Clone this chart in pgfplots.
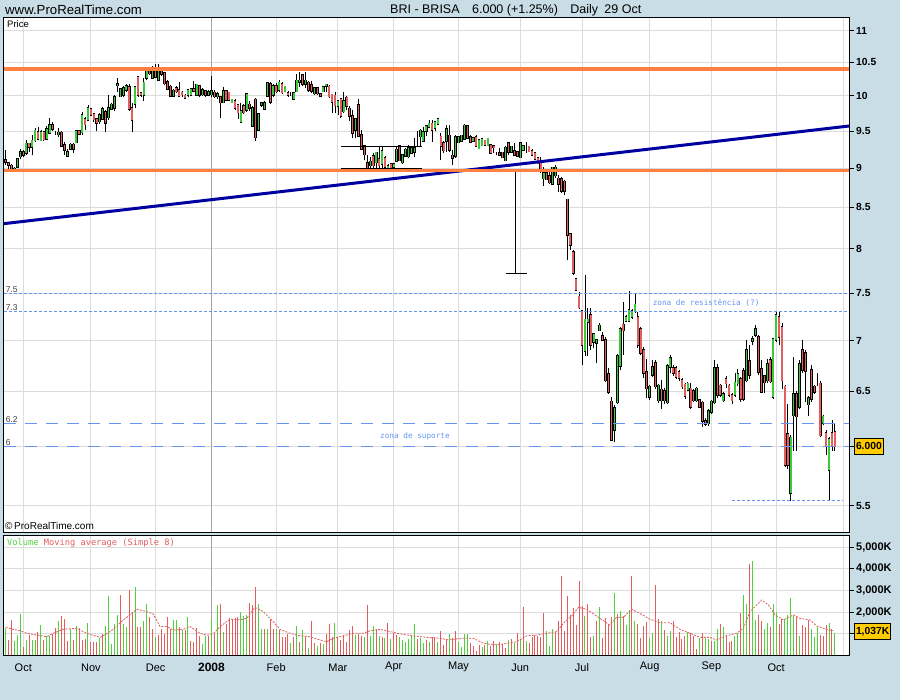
\documentclass[border=0pt]{standalone}
\usepackage{fontspec}
\setmainfont{Liberation Sans}
\newfontfamily\monofont{DejaVu Sans Mono}
\usepackage{pgfplots}
\usepackage{pgfplotstable}
\pgfplotsset{compat=1.18}
\definecolor{bg}{RGB}{201,221,230}
\definecolor{cgreen}{RGB}{60,200,60}
\definecolor{cred}{RGB}{225,95,95}
\definecolor{vgreen}{RGB}{80,210,60}
\definecolor{vred}{RGB}{228,92,92}
\definecolor{ornge}{RGB}{255,128,64}
\definecolor{navy}{RGB}{0,0,160}
\definecolor{lblue}{RGB}{100,150,240}
\definecolor{gridc}{RGB}{220,220,220}
\definecolor{gridd}{RGB}{165,165,165}
\definecolor{boxy}{RGB}{255,204,0}

\pgfplotstableread{
i O H L C
-6 9.10 9.24 9.04 9.09
-5 9.06 9.08 8.99 9.05
-4 9.03 9.05 8.97 8.98
-3 8.98 9.02 8.96 8.99
-2 9.02 9.12 9.01 9.11
-1 9.16 9.25 9.12 9.21
0 9.21 9.24 9.15 9.18
1 9.21 9.38 9.17 9.32
2 9.32 9.34 9.22 9.29
3 9.29 9.44 9.17 9.36
4 9.38 9.54 9.35 9.50
5 9.48 9.56 9.38 9.40
6 9.38 9.52 9.36 9.48
7 9.48 9.50 9.37 9.39
8 9.40 9.57 9.38 9.52
9 9.48 9.68 9.46 9.58
10 9.58 9.62 9.50 9.54
11 9.46 9.50 9.44 9.46
12 9.46 9.54 9.42 9.47
13 9.47 9.50 9.28 9.30
14 9.30 9.35 9.17 9.25
15 9.17 9.26 9.16 9.21
16 9.26 9.33 9.24 9.31
17 9.31 9.33 9.20 9.26
18 9.35 9.52 9.33 9.49
19 9.49 9.52 9.44 9.47
20 9.49 9.77 9.45 9.72
21 9.66 9.70 9.52 9.60
22 9.66 9.87 9.64 9.82
23 9.80 9.83 9.71 9.73
24 9.73 9.76 9.62 9.67
25 9.66 9.68 9.50 9.62
26 9.64 9.75 9.60 9.72
27 9.68 9.84 9.65 9.80
28 9.76 9.80 9.49 9.62
29 9.70 10.01 9.66 9.82
30 9.82 9.90 9.79 9.87
31 9.83 10.02 9.78 9.98
32 10.16 10.27 10.05 10.17
33 10.00 10.12 9.98 10.09
34 10.02 10.14 9.99 10.11
35 10.09 10.18 10.06 10.14
36 10.12 10.17 9.78 9.82
37 9.82 9.89 9.49 9.66
38 9.89 10.15 9.82 10.12
39 10.27 10.30 9.98 10.02
40 10.03 10.06 9.99 10.02
41 10.02 10.27 9.92 10.19
42 10.27 10.40 10.24 10.37
43 10.39 10.42 10.31 10.34
44 10.27 10.44 10.25 10.41
45 10.36 10.47 10.27 10.29
46 10.24 10.47 10.22 10.41
47 10.39 10.42 10.30 10.33
48 10.33 10.36 10.16 10.19
49 10.20 10.23 10.08 10.11
50 10.13 10.16 9.98 10.01
51 10.01 10.10 9.98 10.07
52 10.11 10.14 10.04 10.07
53 10.08 10.20 9.99 10.01
54 10.04 10.07 9.99 10.03
55 10.00 10.03 9.95 9.98
56 10.02 10.10 9.99 10.08
57 10.02 10.12 10.00 10.09
58 10.09 10.22 10.05 10.08
59 10.02 10.18 10.00 10.16
60 10.14 10.16 9.99 10.02
61 10.03 10.11 10.00 10.08
62 10.06 10.09 9.99 10.02
63 10.02 10.08 10.00 10.05
64 10.03 10.30 9.98 10.06
65 10.04 10.08 9.97 10.00
66 10.00 10.05 9.96 10.02
67 9.98 10.00 9.68 9.91
68 9.91 10.13 9.89 10.06
69 10.06 10.08 9.92 9.95
70 10.04 10.06 9.93 9.95
71 9.91 9.96 9.89 9.94
72 9.92 9.95 9.80 9.83
73 9.86 9.88 9.67 9.77
74 9.63 9.90 9.61 9.77
75 9.85 9.88 9.74 9.77
76 9.80 10.04 9.77 10.02
77 9.87 9.92 9.78 9.83
78 9.58 9.86 9.55 9.82
79 9.94 9.97 9.37 9.42
80 9.52 9.76 9.50 9.73
81 9.88 9.91 9.84 9.89
82 9.82 9.92 9.79 9.89
83 10.01 10.21 9.99 10.18
84 10.17 10.20 9.88 9.92
85 10.02 10.17 9.99 10.14
86 10.14 10.19 10.04 10.07
87 10.09 10.23 10.06 10.19
88 10.17 10.20 10.03 10.06
89 10.07 10.15 10.05 10.13
90 10.03 10.07 9.99 10.02
91 10.02 10.05 10.00 10.02
92 9.96 10.05 9.94 10.03
93 10.07 10.33 10.06 10.22
94 10.21 10.35 10.13 10.22
95 10.30 10.32 10.14 10.18
96 10.18 10.36 10.12 10.22
97 10.19 10.22 10.06 10.09
98 10.15 10.22 10.04 10.08
99 10.04 10.13 10.02 10.11
100 10.11 10.13 10.01 10.04
101 10.02 10.04 9.99 10.01
102 10.07 10.14 10.05 10.12
103 10.15 10.18 10.05 10.16
104 10.13 10.16 9.97 10.00
105 10.01 10.02 9.75 9.92
106 10.00 10.05 9.75 9.87
107 9.86 9.94 9.72 9.92
108 9.95 9.97 9.68 9.72
109 9.78 10.05 9.75 9.92
110 9.97 10.00 9.80 9.86
111 9.81 9.85 9.64 9.72
112 9.70 9.80 9.40 9.48
113 9.52 9.68 9.40 9.66
114 9.86 9.95 9.42 9.44
115 9.44 9.52 9.24 9.26
116 9.29 9.31 9.11 9.19
117 9.06 9.17 8.99 9.00
118 9.04 9.15 8.98 9.08
119 9.15 9.20 8.98 9.04
120 9.08 9.22 8.98 9.20
121 9.11 9.29 8.98 9.04
122 9.06 9.29 8.98 9.22
123 9.13 9.16 9.00 9.02
124 9.00 9.05 8.97 9.02
125 9.05 9.07 8.98 9.01
126 9.02 9.07 9.00 9.05
127 9.10 9.29 9.08 9.24
128 9.29 9.31 9.09 9.11
129 9.08 9.19 9.06 9.17
130 9.17 9.27 9.15 9.24
131 9.16 9.31 9.13 9.26
132 9.21 9.28 9.19 9.26
133 9.22 9.41 9.15 9.26
134 9.30 9.50 9.29 9.30
135 9.43 9.53 9.28 9.50
136 9.37 9.55 9.36 9.48
137 9.51 9.59 9.43 9.56
138 9.56 9.66 9.55 9.60
139 9.60 9.66 9.35 9.52
140 9.55 9.64 9.50 9.62
141 9.61 9.68 9.59 9.66
142 9.42 9.47 9.11 9.30
143 9.33 9.36 9.20 9.24
144 9.37 9.58 9.22 9.52
145 9.43 9.58 9.21 9.25
146 9.16 9.24 9.04 9.14
147 9.17 9.45 9.14 9.41
148 9.35 9.43 9.33 9.41
149 9.37 9.45 9.35 9.43
150 9.40 9.60 9.38 9.57
151 9.56 9.59 9.39 9.41
152 9.41 9.44 9.33 9.36
153 9.37 9.42 9.35 9.40
154 9.41 9.44 9.28 9.30
155 9.27 9.39 9.25 9.37
156 9.31 9.40 9.29 9.38
157 9.36 9.38 9.30 9.32
158 9.31 9.41 9.29 9.39
159 9.30 9.31 9.20 9.21
160 9.29 9.31 9.20 9.28
161 9.19 9.21 9.17 9.19
162 9.19 9.27 9.17 9.18
163 9.20 9.22 9.13 9.15
164 9.11 9.29 9.09 9.27
165 9.33 9.35 9.18 9.22
166 9.22 9.30 9.20 9.28
167 9.22 9.33 9.16 9.18
168 9.21 9.23 9.15 9.17
169 9.15 9.35 9.13 9.33
170 9.25 9.31 9.23 9.29
171 9.29 9.35 9.20 9.29
172 9.28 9.30 9.21 9.23
173 9.22 9.26 9.16 9.18
174 9.19 9.21 9.11 9.13
175 9.13 9.15 9.05 9.07
176 9.07 9.15 8.94 9.00
177 8.87 9.02 8.77 8.93
178 8.93 8.95 8.84 8.86
179 8.89 8.98 8.79 8.82
180 8.80 9.02 8.79 9.00
181 8.91 9.04 8.87 9.00
182 8.86 8.91 8.69 8.80
183 8.85 8.88 8.68 8.71
184 8.82 8.84 8.66 8.71
185 8.59 8.60 7.87 8.17
186 8.17 8.19 7.99 8.05
187 7.96 7.99 7.70 7.73
188 7.65 7.67 7.52 7.54
189 7.46 7.51 7.33 7.35
190 7.30 7.32 6.75 6.96
191 6.90 7.70 6.84 7.21
192 7.20 7.34 6.84 7.21
193 7.26 7.34 6.90 6.96
194 6.99 7.08 6.92 7.06
195 6.98 7.02 6.77 7.00
196 7.11 7.18 7.10 7.15
197 7.04 7.09 6.99 7.01
198 7.00 7.04 6.59 6.61
199 6.66 6.72 6.47 6.50
200 6.40 6.45 6.05 6.06
201 6.15 6.37 6.04 6.34
202 6.40 6.86 6.38 6.84
203 6.75 7.14 6.70 7.11
204 7.16 7.40 6.85 7.11
205 7.21 7.26 7.19 7.24
206 7.21 7.52 7.19 7.31
207 7.25 7.33 7.22 7.30
208 7.31 7.50 7.29 7.37
209 7.24 7.30 6.92 6.96
210 7.11 7.14 6.85 6.88
211 6.90 6.93 6.63 6.68
212 6.68 6.81 6.44 6.53
213 6.45 6.56 6.42 6.54
214 6.66 6.80 6.64 6.73
215 6.77 6.80 6.52 6.55
216 6.42 6.57 6.39 6.55
217 6.51 6.61 6.33 6.42
218 6.50 6.53 6.38 6.42
219 6.40 6.76 6.38 6.74
220 6.74 6.85 6.68 6.82
221 6.72 6.75 6.65 6.68
222 6.72 6.74 6.62 6.64
223 6.68 6.70 6.60 6.63
224 6.60 6.63 6.52 6.55
225 6.56 6.58 6.43 6.46
226 6.52 6.59 6.50 6.57
227 6.52 6.58 6.33 6.36
228 6.50 6.52 6.40 6.42
229 6.42 6.54 6.40 6.52
230 6.41 6.43 6.34 6.36
231 6.39 6.41 6.17 6.23
232 6.22 6.25 6.18 6.20
233 6.21 6.33 6.18 6.31
234 6.31 6.42 6.29 6.40
235 6.40 6.80 6.38 6.72
236 6.72 6.76 6.44 6.47
237 6.55 6.57 6.45 6.47
238 6.42 6.49 6.40 6.47
239 6.61 6.65 6.53 6.58
240 6.55 6.57 6.45 6.47
241 6.46 6.48 6.38 6.42
242 6.47 6.68 6.45 6.58
243 6.58 6.71 6.55 6.66
244 6.61 6.64 6.40 6.43
245 6.69 6.72 6.41 6.43
246 6.61 7.01 6.59 6.90
247 6.79 6.95 6.62 6.66
248 7.00 7.05 6.95 7.01
249 7.06 7.16 7.04 7.11
250 7.03 7.06 6.66 6.69
251 6.71 6.80 6.48 6.50
252 6.64 6.66 6.48 6.59
253 6.61 6.81 6.58 6.76
254 6.80 6.83 6.58 6.60
255 6.45 7.03 6.43 7.01
256 7.01 7.31 6.98 7.26
257 7.24 7.31 6.95 7.04
258 7.13 7.18 6.52 6.61
259 6.54 6.56 5.82 5.84
260 6.10 6.38 5.80 5.84
261 5.61 6.10 5.54 6.07
262 6.28 6.83 5.96 6.47
263 6.47 6.50 5.96 6.27
264 6.36 6.80 6.33 6.76
265 6.90 7.01 6.68 6.71
266 6.87 6.90 6.40 6.70
267 6.38 6.46 6.27 6.43
268 6.70 6.75 6.40 6.43
269 6.54 6.56 6.47 6.50
270 6.58 6.68 6.55 6.58
271 6.57 6.60 6.08 6.10
272 6.21 6.28 6.19 6.26
273 6.11 6.14 5.92 6.01
274 5.80 6.08 5.54 6.06
275 6.11 6.23 5.96 6.01
276 6.12 6.21 5.96 6.00
}\price

\pgfplotstableread[row sep=\\]{
i V g\\
-6 1250 1\\ -5 710 0\\ -4 1640 0\\ -3 680 1\\ -2 940 1\\ -1 1910 1\\ 0 400 0\\ 1 710 1\\ 2 940 0\\ 3 710 1\\
4 710 1\\ 5 1100 0\\ 6 1400 1\\ 7 710 0\\ 8 900 1\\ 9 900 1\\ 10 1000 0\\ 11 1280 0\\ 12 1600 1\\ 13 1820 0\\
14 1670 0\\ 15 680 0\\ 16 1200 1\\ 17 710 0\\ 18 1360 1\\ 19 1250 0\\ 20 710 0\\ 21 740 0\\ 22 1480 1\\ 23 630 0\\
24 630 0\\ 25 630 0\\ 26 790 1\\ 27 1000 0\\ 28 1360 1\\ 29 2750 1\\ 30 520 1\\ 31 1450 1\\ 32 1870 1\\ 33 2790 0\\
34 1440 1\\ 35 1330 1\\ 36 3020 0\\ 37 1940 0\\ 38 3160 1\\ 39 1330 0\\ 40 1330 0\\ 41 1600 1\\ 42 2380 1\\ 43 1760 0\\
44 1230 0\\ 45 860 1\\ 46 940 0\\ 47 1230 0\\ 48 1000 0\\ 49 1760 0\\ 50 1200 0\\ 51 1640 1\\ 52 1640 1\\ 53 1330 0\\
54 1170 1\\ 55 1170 0\\ 56 1760 1\\ 57 680 0\\ 58 630 0\\ 59 1250 0\\ 60 900 0\\ 61 520 1\\ 62 900 1\\ 63 900 0\\
64 1670 1\\ 65 1000 0\\ 66 2330 1\\ 67 2380 0\\ 68 1100 1\\ 69 1450 0\\ 70 1710 0\\ 71 1640 0\\ 72 1710 0\\ 73 1760 0\\
74 2020 1\\ 75 1820 1\\ 76 1870 1\\ 77 2440 0\\ 78 2330 0\\ 79 3180 0\\ 80 2380 1\\ 81 1200 1\\ 82 1200 0\\ 83 1200 1\\
84 1670 0\\ 85 1200 0\\ 86 1200 1\\ 87 1170 0\\ 88 860 0\\ 89 830 0\\ 90 1000 0\\ 91 590 1\\ 92 830 0\\ 93 1360 1\\
94 630 0\\ 95 1170 1\\ 96 830 0\\ 97 320 1\\ 98 1600 0\\ 99 560 0\\ 100 430 1\\ 101 560 0\\ 102 520 1\\ 103 1000 0\\
104 1450 0\\ 105 830 0\\ 106 1480 1\\ 107 830 0\\ 108 710 0\\ 109 940 0\\ 110 630 0\\ 111 1170 0\\ 112 1360 0\\ 113 940 1\\
114 1000 0\\ 115 900 0\\ 116 830 1\\ 117 2330 0\\ 118 900 1\\ 119 1360 1\\ 120 1200 0\\ 121 900 1\\ 122 830 0\\ 123 790 1\\
124 1480 0\\ 125 740 1\\ 126 1050 0\\ 127 940 0\\ 128 830 1\\ 129 710 1\\ 130 630 1\\ 131 740 1\\ 132 900 1\\ 133 1450 1\\
134 740 0\\ 135 790 1\\ 136 590 1\\ 137 710 0\\ 138 630 1\\ 139 830 0\\ 140 830 0\\ 141 630 1\\ 142 1140 0\\ 143 480 0\\
144 740 0\\ 145 1000 1\\ 146 800 0\\ 147 1140 0\\ 148 630 1\\ 149 370 1\\ 150 1000 1\\ 151 980 1\\ 152 590 0\\ 153 430 0\\
154 220 0\\ 155 480 0\\ 156 400 1\\ 157 480 0\\ 158 680 1\\ 159 430 0\\ 160 680 0\\ 161 520 1\\ 162 620 0\\ 163 520 0\\
164 320 0\\ 165 710 1\\ 166 740 0\\ 167 590 1\\ 168 1050 0\\ 169 710 1\\ 170 2220 0\\ 171 680 1\\ 172 590 0\\ 173 830 0\\
174 940 0\\ 175 900 0\\ 176 830 0\\ 177 1980 0\\ 178 1140 1\\ 179 430 1\\ 180 1200 1\\ 181 1100 0\\ 182 1600 0\\ 183 3670 0\\
184 1140 0\\ 185 2750 0\\ 186 1870 0\\ 187 2180 0\\ 188 1400 0\\ 189 3460 0\\ 190 2280 0\\ 191 1820 1\\ 192 2380 0\\ 193 830 0\\
194 900 1\\ 195 1600 0\\ 196 2250 1\\ 197 790 0\\ 198 1710 0\\ 199 1450 0\\ 200 1760 0\\ 201 2900 1\\ 202 1910 0\\ 203 2070 1\\
204 1820 0\\ 205 1400 1\\ 206 2100 1\\ 207 3670 0\\ 208 1600 1\\ 209 1450 0\\ 210 790 0\\ 211 1360 0\\ 212 1560 0\\ 213 790 1\\
214 1050 1\\ 215 3260 0\\ 216 1670 0\\ 217 1600 1\\ 218 1170 0\\ 219 900 1\\ 220 1140 1\\ 221 1600 0\\ 222 830 0\\ 223 1100 0\\
224 740 0\\ 225 900 0\\ 226 1100 1\\ 227 1050 0\\ 228 900 0\\ 229 280 0\\ 230 790 1\\ 231 1050 0\\ 232 790 1\\ 233 740 1\\
234 680 0\\ 235 680 1\\ 236 1200 1\\ 237 1450 0\\ 238 1330 1\\ 239 940 0\\ 240 630 0\\ 241 680 0\\ 242 900 1\\ 243 1050 1\\
244 1940 0\\ 245 2790 1\\ 246 2380 1\\ 247 4230 0\\ 248 4380 1\\ 249 1640 1\\ 250 1870 0\\ 251 1600 0\\ 252 1200 1\\ 253 1510 1\\
254 1330 0\\ 255 2380 1\\ 256 2020 1\\ 257 1450 0\\ 258 1670 0\\ 259 1670 1\\ 260 1870 1\\ 261 2640 1\\ 262 1820 1\\ 263 1760 0\\
264 900 1\\ 265 1400 0\\ 266 1330 0\\ 267 1640 0\\ 268 1200 1\\ 269 860 1\\ 270 1330 1\\ 271 940 0\\ 272 900 0\\ 273 1400 0\\
274 1510 1\\ 275 1200 0\\ 276 1037 1\\
}\vol

\begin{document}
\begin{tikzpicture}
\fill[bg] (0,0) rectangle (900pt,700pt);

% ---------------- price panel ----------------
\begin{axis}[
  at={(4pt,167.5pt)}, anchor=south west,
  width=845pt, height=514.9pt, scale only axis,
  ymode=log,
  xmin=-6.56, xmax=280.8, ymin=5.29, ymax=11.21,
  axis background/.style={fill=white},
  axis line style={black, line width=1pt},
  xtick={0,23,45,64,86,107,126,148,169,190,213,234,256,279},
  xticklabels={},
  xtick style={draw=none},
  ytick={5.5,6,6.5,7,7.5,8,8.5,9,9.5,10,10.5,11},
  yticklabels={5.5,{},6.5,7,7.5,8,8.5,9,9.5,10,10.5,11},
  minor y tick num=0,
  ytick pos=right, yticklabel pos=right,
  tick align=outside, major tick length=5pt,
  ytick style={black, line width=0.8pt},
  yticklabel style={font=\fontsize{10.3}{12}\selectfont\bfseries, anchor=west, inner sep=0pt, xshift=2pt},
  grid=major,
  major grid style={gridc, line width=0.9pt},
  extra x ticks={64}, extra x tick labels={},
  extra x tick style={grid=major, major grid style={gridd, line width=1pt}, tick style={draw=none}},
]
% wicks
\addplot[draw=none, mark=none, forget plot,
  error bars/.cd, y dir=plus, y explicit, error mark=none,
  error bar style={draw=black, line width=0.8pt}]
  table[x=i, y=L, y error expr=\thisrow{H}-\thisrow{L}] {\price};
% body outlines
\addplot[draw=none, mark=none, forget plot,
  error bars/.cd, y dir=plus, y explicit, error mark=none,
  error bar style={draw=black, line width=2.7pt, line cap=rect}]
  table[x=i, y expr={min(\thisrow{O},\thisrow{C})}, y error expr={abs(\thisrow{C}-\thisrow{O})}] {\price};
% up bodies
\addplot[draw=none, mark=none, forget plot,
  restrict expr to domain={\thisrow{C}-\thisrow{O}}{0:10},
  error bars/.cd, y dir=plus, y explicit, error mark=none,
  error bar style={draw=cgreen, line width=1.5pt, line cap=rect}]
  table[x=i, y=O, y error expr=\thisrow{C}-\thisrow{O}] {\price};
% down bodies
\addplot[draw=none, mark=none, forget plot,
  restrict expr to domain={\thisrow{O}-\thisrow{C}}{0.001:10},
  error bars/.cd, y dir=plus, y explicit, error mark=none,
  error bar style={draw=cred, line width=1.5pt, line cap=rect}]
  table[x=i, y=C, y error expr=\thisrow{O}-\thisrow{C}] {\price};

% reference lines
\addplot[lblue, line width=0.8pt, dash pattern=on 3pt off 2pt] coordinates {(-6.56,7.5) (280.8,7.5)};
\addplot[lblue, line width=0.8pt, dash pattern=on 3pt off 2pt] coordinates {(-6.56,7.3) (280.8,7.3)};
\addplot[lblue, line width=0.9pt, dash pattern=on 12pt off 9pt] coordinates {(-6.56,6.2) (280.8,6.2)};
\addplot[lblue, line width=0.9pt, dash pattern=on 12pt off 9pt] coordinates {(-6.56,6.0) (280.8,6.0)};
\addplot[lblue, line width=0.8pt, dash pattern=on 3pt off 2pt] coordinates {(241,5.54) (278.8,5.54)};
% drawn annotations
\addplot[black, line width=0.9pt] coordinates {(108,9.29) (135.5,9.29)};
\addplot[black, line width=0.9pt] coordinates {(108,9.00) (135.5,9.00)};
\addplot[black, line width=0.9pt] coordinates {(167.5,8.97) (167.5,7.72)};
\addplot[black, line width=0.9pt] coordinates {(164.2,7.72) (171.2,7.72)};
% trend and horizontal levels
\addplot[navy, line width=3pt] coordinates {(-6.56,8.30) (280.8,9.57)};
\addplot[ornge, line width=3.2pt] coordinates {(-6.56,10.40) (280.8,10.40)};
\addplot[ornge, line width=3.2pt] coordinates {(-6.56,8.97) (280.8,8.97)};

\node[anchor=south west, inner sep=0.5pt, text=black!75, font=\fontsize{8.5}{10}\selectfont] at (axis cs:-6.2,7.5) {7.5};
\node[anchor=south west, inner sep=0.5pt, text=black!75, font=\fontsize{8.5}{10}\selectfont] at (axis cs:-6.2,7.3) {7.3};
\node[anchor=south west, inner sep=0.5pt, text=black!75, font=\fontsize{8.5}{10}\selectfont] at (axis cs:-6.2,6.2) {6.2};
\node[anchor=south west, inner sep=0.5pt, text=black!75, font=\fontsize{8.5}{10}\selectfont] at (axis cs:-6.2,6.0) {6};
\node[text=lblue, inner sep=0pt, font=\monofont\fontsize{7.7}{9}\selectfont] at (axis cs:232.2,7.39) {zona de resistência (?)};
\node[text=lblue, inner sep=0pt, font=\monofont\fontsize{7.7}{9}\selectfont] at (axis cs:133.2,6.09) {zona de suporte};
\end{axis}

% ---------------- volume panel ----------------
\begin{axis}[
  at={(4pt,44.7pt)}, anchor=south west,
  width=845pt, height=119.3pt, scale only axis,
  xmin=-6.56, xmax=280.8, ymin=0, ymax=5523,
  axis background/.style={fill=white},
  axis line style={black, line width=1pt},
  xtick={0,23,45,64,86,107,126,148,169,190,213,234,256,279},
  xticklabels={Oct,Nov,Dec,{\fontsize{12}{14}\selectfont\bfseries 2008},Feb,Mar,Apr,May,Jun,Jul,Aug,Sep,Oct,{}},
  xtick style={draw=none},
  xticklabel style={font=\fontsize{11}{13}\selectfont, anchor=center, yshift=-7pt},
  ytick={1000,2000,3000,4000,5000},
  yticklabels={{},{2,000K},{3,000K},{4,000K},{5,000K}},
  scaled y ticks=false,
  ytick pos=right, yticklabel pos=right,
  tick align=outside, major tick length=5pt,
  ytick style={black, line width=0.8pt},
  yticklabel style={font=\fontsize{11}{13}\selectfont\bfseries, anchor=west, inner sep=0pt, xshift=2pt},
  grid=major,
  major grid style={gridc, line width=0.9pt},
  extra x ticks={64}, extra x tick labels={},
  extra x tick style={grid=major, major grid style={gridd, line width=1pt}, tick style={draw=none}},
]
\addplot[ycomb, vgreen, line width=1pt, mark=none, restrict expr to domain={\thisrow{g}}{0.5:1.5}] table[x=i, y=V] {\vol};
\addplot[ycomb, vred, line width=1pt, mark=none, restrict expr to domain={\thisrow{g}}{-0.5:0.5}] table[x=i, y=V] {\vol};
\addplot[vred, line width=0.8pt, dash pattern=on 2pt off 1.3pt] coordinates {
(-6,1300) (-3.4,1200) (-1.1,1140) (1.1,1020) (4.5,940) (7.9,860) (10.2,1020) (13.6,1200) (18.1,1250) (21.5,1020)
(26.1,830) (28.4,1000) (30.6,1200) (34,1640) (36.3,1870) (38.6,2130) (42,2020) (44.2,1910) (46.5,1330) (48.8,1330)
(51,1170) (54.4,1200) (56.7,1330) (60.1,1020) (62.4,930) (64.6,990) (66.9,1330) (70.3,1670) (73.7,1640) (76,1710)
(78.8,2220) (81.6,2020) (85,1560) (87.3,1200) (90.7,1020) (94.1,900) (97.5,860) (100.9,710) (103.2,630) (105.5,790)
(108.8,900) (112.3,1020) (115.7,1020) (118,1140) (121.3,1200) (124.7,1100) (128.1,990) (132.7,900) (137.2,830) (141.7,790)
(144.6,710) (146.2,740) (149.6,790) (153,790) (156.4,560) (159.8,480) (163.2,520) (167.8,630) (171.2,900) (174.6,940)
(178,1020) (181.4,1100) (184.2,1560) (186.5,1820) (188.8,2220) (191.6,2130) (194.4,1870) (197.3,1600) (199.5,1400) (201.8,1760)
(204.1,1760) (206.9,2130) (209.7,1940) (213.1,1670) (216.5,1510) (219.9,1510) (223.3,1200) (226.7,1020) (230.1,830) (233.5,830)
(235.8,710) (239.2,900) (242.6,1020) (244.9,1250) (247.1,2020) (249.4,2330) (251.1,2560) (253.4,2330) (255.6,1870) (258.5,1640)
(261.9,1870) (264.1,1710) (267.5,1640) (269.8,1360) (273.2,1200) (275.5,1140)};
\end{axis}

% ---------------- texts and boxes ----------------
\node[anchor=west, inner sep=0pt, font=\fontsize{13.2}{15}\selectfont] at (5pt,690pt) {www.ProRealTime.com};
\node[anchor=west, inner sep=0pt, font=\fontsize{12.5}{14}\selectfont] at (390pt,690pt) {BRI - BRISA\hspace{1em}6.000 (+1.25\%)\hspace{1em}Daily\hspace{0.5em}29 Oct};
\node[anchor=west, inner sep=0pt, font=\fontsize{9.5}{11}\selectfont] at (7pt,676pt) {Price};
\node[anchor=west, inner sep=0pt, font=\fontsize{10}{12}\selectfont] at (5pt,174pt) {©\,ProRealTime.com};
\node[anchor=west, inner sep=0pt, font=\monofont\fontsize{8.7}{10}\selectfont] at (7pt,156.5pt) {\textcolor{vgreen}{Volume} \textcolor{vred}{Moving average (Simple 8)}};
\node[anchor=west, fill=boxy, draw=black, line width=0.8pt, inner sep=1.6pt, minimum height=16pt, font=\fontsize{10.3}{12}\selectfont\bfseries] at (854pt,254pt) {6.000};
\node[anchor=west, fill=boxy, draw=black, line width=0.8pt, inner sep=1.6pt, minimum height=16pt, font=\fontsize{10.3}{12}\selectfont\bfseries] at (854pt,68.3pt) {1,037K};
\pgfresetboundingbox
\useasboundingbox (0,0) rectangle (900pt,700pt);
\end{tikzpicture}
\end{document}
